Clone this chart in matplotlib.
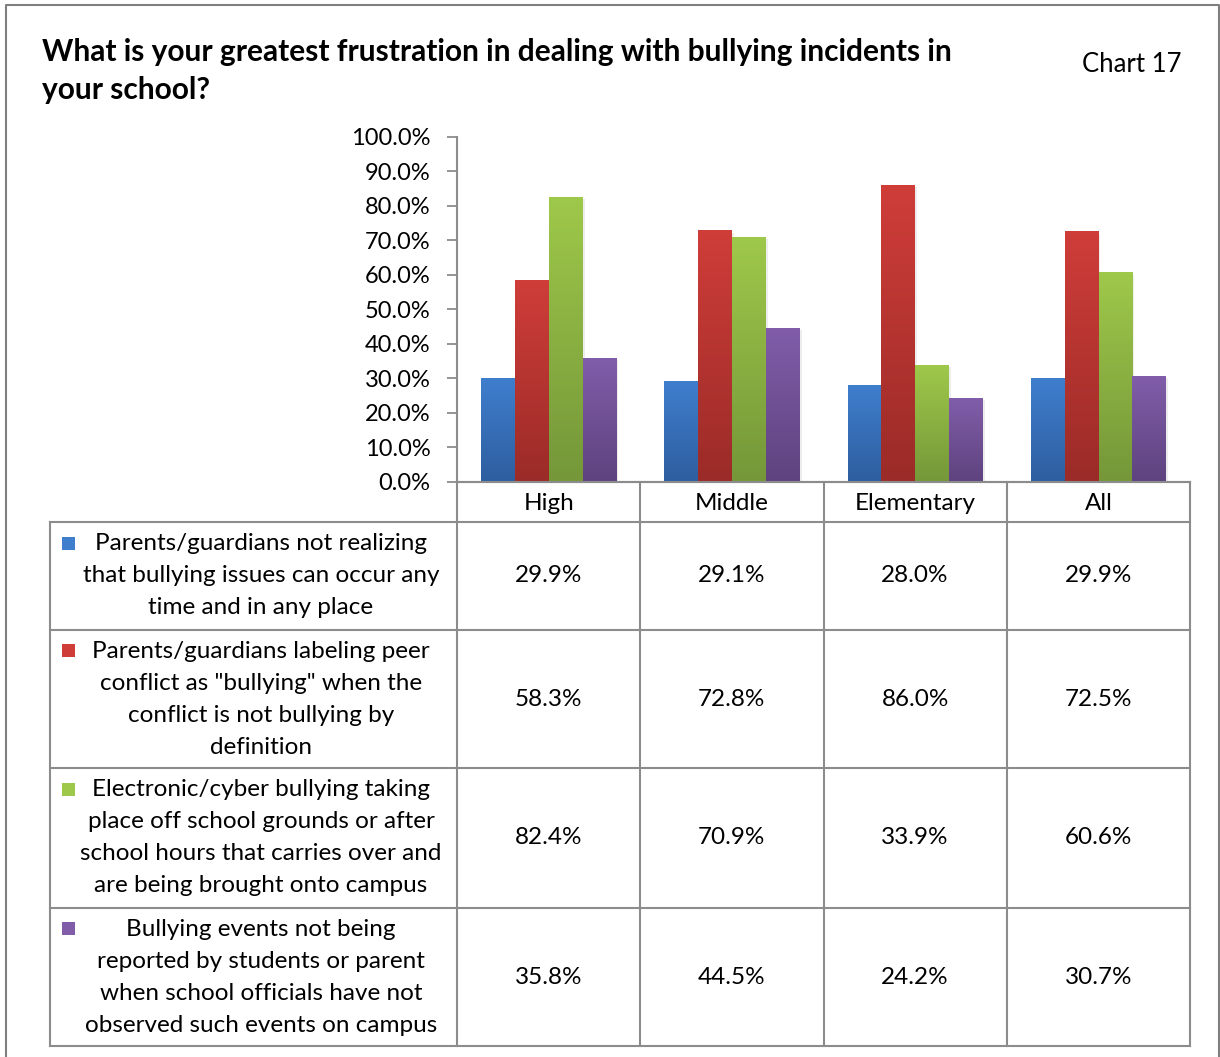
import matplotlib.pyplot as plt
import numpy as np
from matplotlib.colors import LinearSegmentedColormap
from matplotlib.patches import Rectangle

plt.rcParams["font.family"] = ["Lato", "DejaVu Sans"]

title = "What is your greatest frustration in dealing with bullying incidents in\nyour school?"
chart_tag = "Chart 17"
categories = ["High", "Middle", "Elementary", "All"]
series_labels = [
    "Parents/guardians not realizing\nthat bullying issues can occur any\ntime and in any place",
    "Parents/guardians labeling peer\nconflict as \"bullying\" when the\nconflict is not bullying by\ndefinition",
    "Electronic/cyber bullying taking\nplace off school grounds or after\nschool hours that carries over and\nare being brought onto campus",
    "Bullying events not being\nreported by students or parent\nwhen school officials have not\nobserved such events on campus",
]
not_realizing = [29.9, 29.1, 28.0, 29.9]
labeling_conflict = [58.3, 72.8, 86.0, 72.5]
cyber_bullying = [82.4, 70.9, 33.9, 60.6]
not_reported = [35.8, 44.5, 24.2, 30.7]
series = [not_realizing, labeling_conflict, cyber_bullying, not_reported]
y_ticks = np.arange(0, 101, 10)

# (top, bottom) gradient colours, Excel 2007 style
grads = [
    ("#3F7ECD", "#2E5E9F"),
    ("#CF3D39", "#9B2B28"),
    ("#9EC84A", "#759739"),
    ("#815DA9", "#5E437F"),
]

W, H = 1220, 1057
PL, PR, PT, PB = 457, 1190, 137, 482  # plot area in pixels
TL = 50  # table left edge
row_edges = [482, 522, 630, 768, 908, 1046]
LINE = "#8C8C8C"
FS = 17.5

fig = plt.figure(figsize=(W / 100, H / 100), dpi=100)

ax = fig.add_axes([PL / W, 1 - PB / H, (PR - PL) / W, (PB - PT) / H])
bw = 0.185
off = 0.131
for i, vals in enumerate(series):
    cmap = LinearSegmentedColormap.from_list(f"g{i}", [grads[i][1], grads[i][0]])
    for j, v in enumerate(vals):
        x0 = j + off + i * bw
        ax.add_patch(Rectangle((x0 + 0.01, 0), bw, v - 0.5, color="#000000",
                               alpha=0.07, lw=0, zorder=1))
        ax.imshow(np.linspace(0, 1, 64).reshape(-1, 1), cmap=cmap, origin="lower",
                  extent=[x0, x0 + bw, 0, v], aspect="auto", zorder=2)
ax.set_xlim(0, 4)
ax.set_ylim(0, 100)
ax.set_xticks([])
ax.set_yticks(y_ticks)
ax.set_yticklabels([f"{t:.1f}%" for t in y_ticks], fontsize=17)
ax.tick_params(axis="y", direction="out", length=7, width=1.3, color=LINE, pad=12)
for s in ["top", "right"]:
    ax.spines[s].set_visible(False)
for s in ["left", "bottom"]:
    ax.spines[s].set_color(LINE)
    ax.spines[s].set_linewidth(1.5)
ax.patch.set_visible(False)

ov = fig.add_axes([0, 0, 1, 1], zorder=-1)
ov.set_xlim(0, W)
ov.set_ylim(H, 0)
ov.axis("off")

# outer frame
ov.plot([6, 6, 1219, 1219], [H, 5, 5, H], color="#7F7F7F", lw=1.5)

ov.text(42, 52, title.split("\n")[0], fontsize=21.5, fontweight="bold", va="center")
ov.text(42, 90, title.split("\n")[1], fontsize=21.5, fontweight="bold", va="center")
ov.text(1182, 64, chart_tag, fontsize=18.5, ha="right", va="center")

# data table
col_w = (PR - PL) / len(categories)
cols = [PL + k * col_w for k in range(len(categories) + 1)]
for y in row_edges[1:]:
    ov.plot([TL, PR], [y, y], color=LINE, lw=1.5)
ov.plot([PL, PR], [row_edges[0], row_edges[0]], color=LINE, lw=1.5)
ov.plot([TL, TL], [row_edges[1], row_edges[-1]], color=LINE, lw=1.5)
for x in cols:
    ov.plot([x, x], [row_edges[0], row_edges[-1]], color=LINE, lw=1.5)

for j, cat in enumerate(categories):
    ov.text((cols[j] + cols[j + 1]) / 2, (row_edges[0] + row_edges[1]) / 2 + 1, cat,
            fontsize=FS, ha="center", va="center")

for i, (lab, vals) in enumerate(zip(series_labels, series)):
    y0, y1 = row_edges[i + 1], row_edges[i + 2]
    yc = (y0 + y1) / 2
    lines = lab.split("\n")
    first = yc - (len(lines) - 1) * 32 / 2
    for k, ln in enumerate(lines):
        ov.text(261, first + k * 32, ln, fontsize=FS, ha="center", va="center")
    ov.add_patch(Rectangle((62, first - 7), 13, 13, color=grads[i][0], lw=0))
    for j, v in enumerate(vals):
        ov.text((cols[j] + cols[j + 1]) / 2, yc, f"{v:.1f}%", fontsize=FS,
                ha="center", va="center")

fig.savefig("out.png", dpi=100, facecolor="white")
